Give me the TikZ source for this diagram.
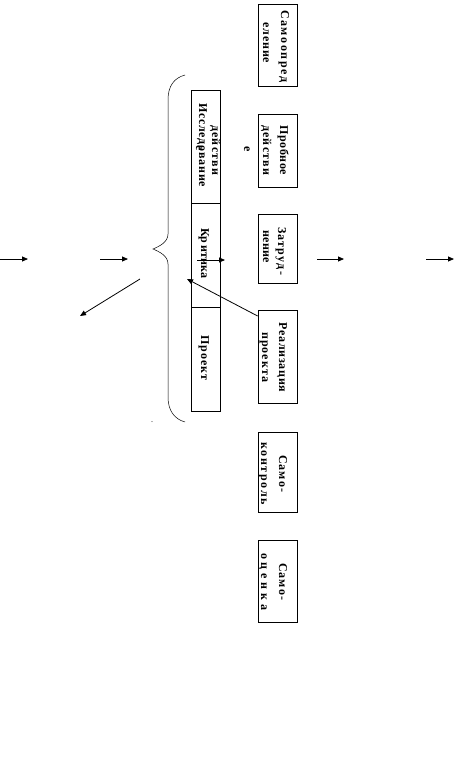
\documentclass[tikz,border=0pt]{standalone}
\usepackage{fontspec}
\setmainfont{Liberation Serif}
\usetikzlibrary{arrows.meta}
\newcommand\spr[2]{\hbox to #1pt{\sprA#2\relax}}
\def\sprA#1{#1\sprB}
\def\sprB#1{\ifx\relax#1\else\hfil#1\expandafter\sprB\fi}
\begin{document}
\begin{tikzpicture}[x=1pt,y=-1pt,
  box/.style={draw, line width=0.8pt, inner sep=0pt, minimum width=39pt},
  sec/.style={draw, line width=0.8pt, inner sep=0pt, minimum width=29pt},
  txt/.style={rotate=-90, anchor=base west, inner sep=0pt, font=\bfseries\fontsize{12}{14}\selectfont},
  ctxt/.style={rotate=-90, anchor=center, inner sep=0pt, font=\bfseries\fontsize{12}{14}\selectfont},
  arr/.style={line width=0.8pt, -{Triangle[length=6pt,width=5pt]}}]
\useasboundingbox (0,0) rectangle (455,771);
% right column boxes
\node[box, minimum height=82pt] (b1) at (277.5,45) {};
\node[box, minimum height=73pt] (b2) at (277.5,150.5) {};
\node[box, minimum height=69pt] (b3) at (277.5,248.5) {};
\node[box, minimum height=93pt] (b4) at (277.5,356.5) {};
\node[box, minimum height=80pt] (b5) at (277.5,472) {};
\node[box, minimum height=82pt] (b6) at (277.5,581) {};
% left tall box sections
\node[sec, minimum height=113pt] (s1) at (205.5,146.5) {};
\node[sec, minimum height=104pt] (s2) at (205.5,255) {};
\node[sec, minimum height=104pt] (s3) at (205.5,359) {};
% texts
\node[txt] (t1) at (281,10) {\spr{72}{Самоопред}};
\node[txt] (t2) at (263,22) {\spr{41}{еление}};
\node[txt] (t3) at (280,125) {\spr{50}{Пробное}};
\node[txt] (t4) at (263,125) {\spr{50}{действи}};
\node[ctxt] (t5) at (247,149) {е};
\node[txt] (t6) at (199,103) {\spr{84}{Исследование}};
\node[txt] (t7) at (212,125) {\spr{50}{действи}};
\node[ctxt] (t8) at (199,148) {е};
\node[txt] (t9) at (201,228) {\spr{50}{Кр{\ }итика}};
\node[txt] (t10) at (278,227) {\spr{48}{Затруд-}};
\node[txt] (t11) at (263,230) {\spr{33}{нение}};
\node[txt] (t12) at (279,322) {\spr{70}{Реализация}};
\node[txt] (t13) at (262,332) {\spr{50}{проекта}};
\node[txt] (t14) at (201,335) {\spr{45}{Проект}};
\node[txt] (t15) at (279,455) {\spr{37}{Само-}};
\node[txt] (t16) at (261,442) {\spr{63}{контроль}};
\node[txt] (t17) at (279,563) {\spr{37}{Само-}};
\node[txt] (t18) at (261,553) {\spr{57}{оценка}};
\node[inner sep=0pt, font=\fontsize{8}{8}\selectfont] (dot) at (152,422) {.};
% brace
\draw[line width=0.5pt] (185,75) .. controls (174,78) and (168,86) .. (168,100) -- (168,234)
  .. controls (168,242) and (160,246) .. (153,249)
  .. controls (160,252) and (168,256) .. (168,264) -- (168,397)
  .. controls (168,410) and (174,419) .. (185,422);
% arrow end points
\coordinate (a1s) at (0,259);   \coordinate (a1e) at (28,259);
\coordinate (a2s) at (100,259); \coordinate (a2e) at (128,259);
\coordinate (a3s) at (197,260); \coordinate (a3e) at (225,260);
\coordinate (a4s) at (317,259); \coordinate (a4e) at (344,259);
\coordinate (a5s) at (426,259); \coordinate (a5e) at (454,259);
\coordinate (a6s) at (140,279); \coordinate (a6e) at (80,316);
\coordinate (a7s) at (b4.west |- 0,316); \coordinate (a7e) at (187,279);
\draw[arr] (a1s) -- (a1e);
\draw[arr] (a2s) -- (a2e);
\draw[arr] (a3s) -- (a3e);
\draw[arr] (a4s) -- (a4e);
\draw[arr] (a5s) -- (a5e);
\draw[arr] (a6s) -- (a6e);
\draw[arr] (a7s) -- (a7e);
\end{tikzpicture}
\end{document}
